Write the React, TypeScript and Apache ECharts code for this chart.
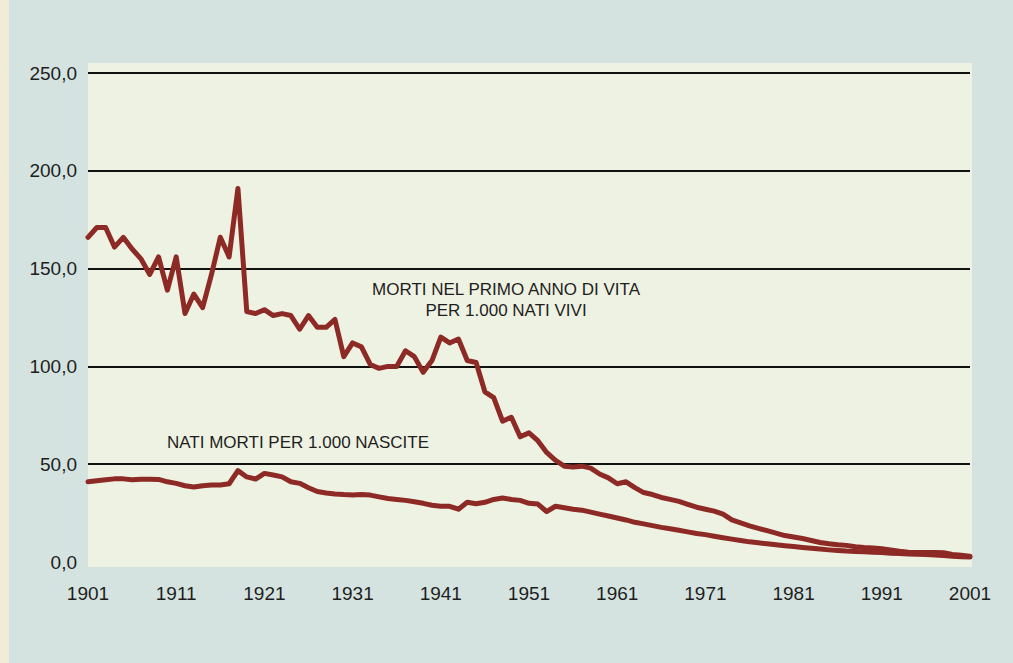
import React, { useEffect, useRef } from "react";
import * as echarts from "echarts";

const years: string[] = [];
for (let y = 1901; y <= 2001; y++) years.push(String(y));

const xTickLabels = ["1901", "1911", "1921", "1931", "1941", "1951", "1961", "1971", "1981", "1991", "2001"];
const yTickLabels = ["0,0", "50,0", "100,0", "150,0", "200,0", "250,0"];

// MORTI NEL PRIMO ANNO DI VITA PER 1.000 NATI VIVI (1901-2001)
const infantMortality = [
  166, 171, 171, 161, 166, 160, 155, 147, 156, 139,
  156, 127, 137, 130, 147, 166, 156, 191, 128, 127,
  129, 126, 127, 126, 119, 126, 120, 120, 124, 105,
  112, 110, 101, 99, 100, 100, 108, 105, 97, 103,
  115, 112, 114, 103, 102, 87, 84, 72, 74, 64,
  66, 62, 56, 52, 49, 48.5, 49, 48, 45, 43,
  40, 41, 38, 35.5, 34.5, 33, 32, 31, 29.5, 28,
  27, 26, 24.5, 21.5, 20, 18.5, 17.2, 16, 14.8, 13.5,
  12.8, 12, 11, 10, 9.3, 8.8, 8.5, 7.8, 7.4, 7.2,
  6.8, 6.2, 5.5, 5.0, 4.9, 4.8, 4.8, 4.7, 3.8, 3.4,
  3.0,
];

// NATI MORTI PER 1.000 NASCITE (1901-2001)
const stillbirths = [
  41, 41.5, 42, 42.5, 42.5, 42, 42.3, 42.3, 42.2, 41,
  40.2, 39, 38.3, 39, 39.4, 39.4, 40, 46.7, 43.5, 42.4,
  45.3, 44.5, 43.5, 41, 40.2, 38, 36, 35.3, 34.8, 34.5,
  34.3, 34.5, 34.2, 33.3, 32.5, 32, 31.5, 30.8, 30, 29,
  28.5, 28.5, 27, 30.5, 29.8, 30.5, 32, 32.7, 32, 31.5,
  30, 29.6, 25.8, 28.5, 27.7, 27, 26.5, 25.5, 24.5, 23.5,
  22.5, 21.5, 20.3, 19.5, 18.6, 17.7, 17, 16.2, 15.4, 14.6,
  14, 13.2, 12.4, 11.7, 11, 10.3, 9.8, 9.3, 8.8, 8.3,
  7.9, 7.4, 7, 6.6, 6.2, 5.9, 5.6, 5.4, 5.2, 5,
  4.8, 4.5, 4.3, 4.1, 4, 3.8, 3.6, 3.3, 3.0, 2.7,
  2.5,
];

const labelInfant1 = "MORTI NEL PRIMO ANNO DI VITA";
const labelInfant2 = "PER 1.000 NATI VIVI";
const labelStill = "NATI MORTI PER 1.000 NASCITE";

export default function App() {
  const ref = useRef<HTMLDivElement>(null);
  useEffect(() => {
    if (!ref.current) return;
    const chart = echarts.init(ref.current, undefined, { renderer: "svg" });
    const lineColor = "#8e2a25";
    const font = "'Liberation Sans', Arial, sans-serif";
    const textColor = "#1e1e1e";
    chart.setOption({
      animation: false,
      backgroundColor: "#d5e3e0",
      textStyle: { fontFamily: font },
      grid: { left: 88, right: 43, top: 73, bottom: 101, containLabel: false },
      graphic: [
        {
          type: "rect",
          silent: true,
          z: -10,
          shape: { x: 0, y: 0, width: 9, height: 663 },
          style: { fill: "#f0ecd6" },
        },
        {
          type: "rect",
          silent: true,
          z: -10,
          shape: { x: 88, y: 63, width: 884, height: 504 },
          style: { fill: "#eef2e2" },
        },
        {
          type: "text",
          x: 506,
          y: 289,
          style: {
            text: labelInfant1,
            fill: textColor,
            font: `17px ${font}`,
            textAlign: "center",
            textVerticalAlign: "middle",
          },
        },
        {
          type: "text",
          x: 506,
          y: 310,
          style: {
            text: labelInfant2,
            fill: textColor,
            font: `17px ${font}`,
            textAlign: "center",
            textVerticalAlign: "middle",
          },
        },
        {
          type: "text",
          x: 167,
          y: 442,
          style: {
            text: labelStill,
            fill: textColor,
            font: `17px ${font}`,
            textAlign: "left",
            textVerticalAlign: "middle",
          },
        },
      ],
      xAxis: {
        type: "category",
        data: years,
        boundaryGap: false,
        axisLine: { show: false },
        axisTick: { show: false },
        splitLine: { show: false },
        axisLabel: {
          interval: 9,
          margin: 22,
          fontSize: 19,
          color: textColor,
          fontFamily: font,
          formatter: (v: string) => (xTickLabels.includes(v) ? v : ""),
        },
      },
      yAxis: {
        type: "value",
        min: 0,
        max: 250,
        interval: 50,
        axisLine: { show: false },
        axisTick: { show: false },
        axisLabel: {
          margin: 11,
          fontSize: 19,
          color: textColor,
          fontFamily: font,
          formatter: (v: number) => yTickLabels[Math.round(v / 50)] ?? "",
        },
        splitLine: {
          show: true,
          lineStyle: {
            color: ["rgba(0,0,0,0)", "#111", "#111", "#111", "#111", "#111"],
            width: 2,
          },
        },
      },
      series: [
        {
          name: labelInfant1 + " " + labelInfant2,
          type: "line",
          data: infantMortality,
          symbol: "none",
          lineStyle: { color: lineColor, width: 5, join: "round", cap: "round" },
          z: 3,
        },
        {
          name: labelStill,
          type: "line",
          data: stillbirths,
          symbol: "none",
          lineStyle: { color: lineColor, width: 5, join: "round", cap: "round" },
          z: 3,
        },
      ],
    });
    return () => chart.dispose();
  }, []);
  return (
    <div
      ref={ref}
      style={{ position: "absolute", left: 0, top: 0, width: 1013, height: 663 }}
    />
  );
}
